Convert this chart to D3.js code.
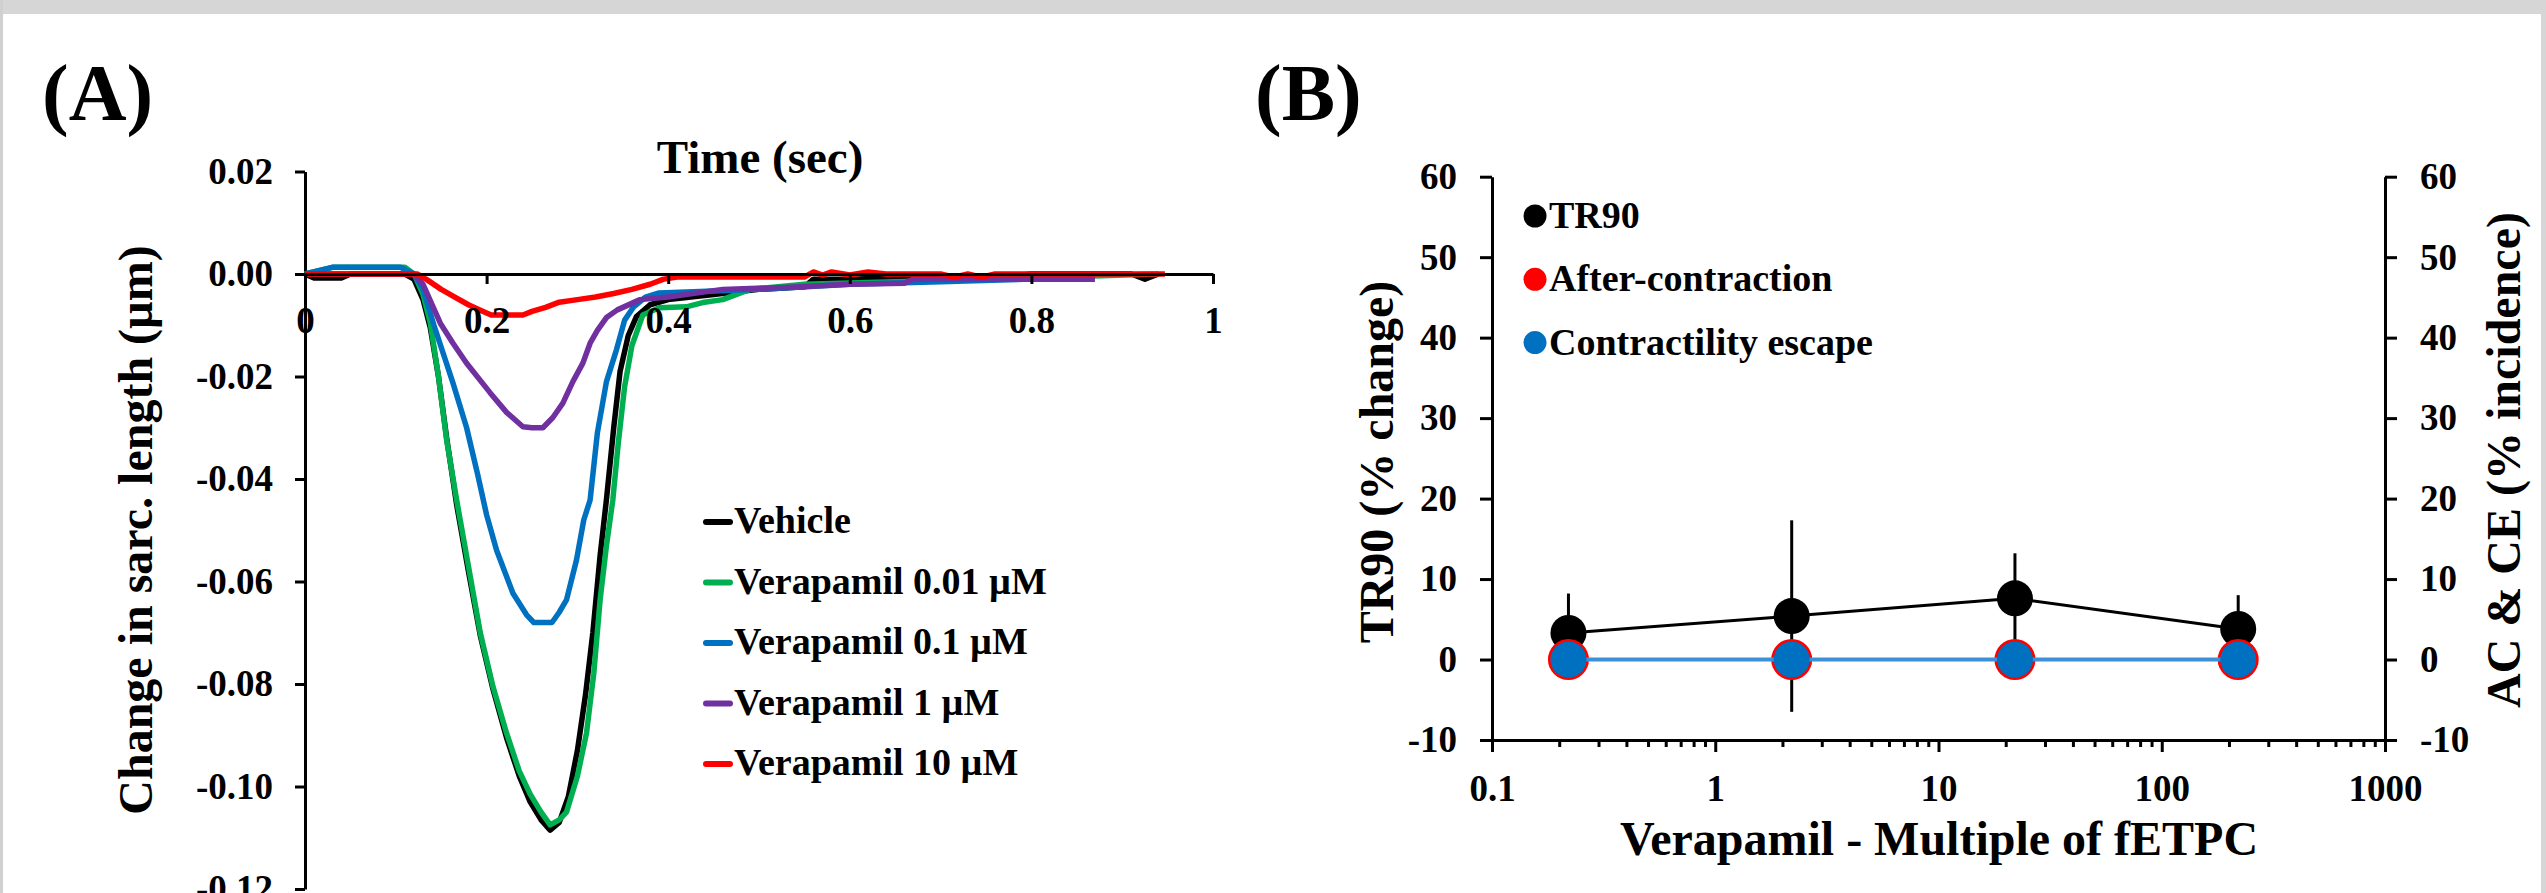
<!DOCTYPE html>
<html>
<head>
<meta charset="utf-8">
<script src="https://cdn.jsdelivr.net/npm/d3@7"></script>
<style>
  body { margin: 0; background: #fff; }
  svg { display: block; font-family: "Liberation Serif", "Times New Roman", serif; font-weight: bold; }
</style>
</head>
<body>
<div id="chart"></div>
<script>
// ---- panel A data : [time (sec), change in sarcomere length (um)] ----
var vehicle = [[0,0],[0.01,-0.0008],[0.04,-0.0008],[0.05,0],[0.11,0],[0.12,-0.001],[0.13,-0.005],[0.138,-0.0105],[0.147,-0.02],[0.156,-0.032],[0.167,-0.045],[0.18,-0.058],[0.193,-0.0705],[0.207,-0.081],[0.222,-0.0905],[0.236,-0.098],[0.248,-0.103],[0.26,-0.1065],[0.27,-0.1085],[0.28,-0.107],[0.29,-0.102],[0.3,-0.093],[0.309,-0.082],[0.317,-0.070],[0.325,-0.055],[0.332,-0.044],[0.34,-0.03],[0.347,-0.019],[0.356,-0.012],[0.365,-0.0083],[0.38,-0.006],[0.4,-0.005],[0.45,-0.004],[0.5,-0.003],[0.55,-0.0025],[0.56,-0.001],[0.6,-0.001],[0.7,-0.0005],[0.74,-0.0012],[0.76,-0.0008],[0.8,0],[0.91,0],[0.925,-0.001],[0.94,0]];
var vera001 = [[0,0],[0.03,0.0013],[0.11,0.0013],[0.12,0],[0.13,-0.004],[0.138,-0.0096],[0.147,-0.02],[0.156,-0.0324],[0.167,-0.0441],[0.18,-0.057],[0.193,-0.070],[0.207,-0.0805],[0.222,-0.0896],[0.236,-0.097],[0.248,-0.1015],[0.26,-0.105],[0.27,-0.1075],[0.28,-0.1065],[0.288,-0.105],[0.3,-0.098],[0.31,-0.0896],[0.318,-0.078],[0.325,-0.0636],[0.332,-0.053],[0.339,-0.0441],[0.345,-0.033],[0.352,-0.022],[0.36,-0.014],[0.372,-0.008],[0.39,-0.0066],[0.42,-0.0064],[0.44,-0.0055],[0.46,-0.005],[0.49,-0.003],[0.55,-0.002],[0.65,-0.0015],[0.75,-0.001],[0.85,-0.0005],[0.94,0]];
var vera01 = [[0,0],[0.03,0.0013],[0.105,0.0013],[0.12,0],[0.13,-0.003],[0.142,-0.01],[0.163,-0.0213],[0.178,-0.030],[0.19,-0.039],[0.2,-0.047],[0.211,-0.0539],[0.229,-0.0623],[0.244,-0.0665],[0.252,-0.068],[0.272,-0.068],[0.28,-0.066],[0.288,-0.0636],[0.299,-0.0558],[0.307,-0.048],[0.314,-0.0441],[0.322,-0.031],[0.332,-0.021],[0.343,-0.0148],[0.352,-0.009],[0.362,-0.0064],[0.375,-0.0045],[0.39,-0.0037],[0.45,-0.0033],[0.5,-0.003],[0.6,-0.002],[0.7,-0.0015],[0.8,-0.001],[0.87,-0.0005]];
var vera1 = [[0,0],[0.12,0],[0.13,-0.002],[0.149,-0.0096],[0.163,-0.0135],[0.178,-0.0174],[0.204,-0.0232],[0.222,-0.027],[0.24,-0.0298],[0.25,-0.030],[0.262,-0.030],[0.273,-0.028],[0.284,-0.0252],[0.295,-0.021],[0.306,-0.0174],[0.314,-0.0135],[0.322,-0.011],[0.332,-0.0085],[0.344,-0.007],[0.369,-0.005],[0.4,-0.0045],[0.46,-0.003],[0.534,-0.0026],[0.6,-0.002],[0.66,-0.0018],[0.67,-0.001],[0.87,-0.001]];
var vera10 = [[0,0],[0.124,0],[0.135,-0.0012],[0.15,-0.003],[0.165,-0.0045],[0.18,-0.006],[0.195,-0.0072],[0.205,-0.008],[0.24,-0.008],[0.25,-0.0073],[0.265,-0.0065],[0.28,-0.0055],[0.3,-0.005],[0.32,-0.0045],[0.34,-0.0038],[0.36,-0.003],[0.38,-0.002],[0.395,-0.001],[0.41,-0.0006],[0.55,-0.0006],[0.56,0.0004],[0.57,-0.0002],[0.58,0.0004],[0.6,-0.0002],[0.62,0.0004],[0.64,0],[0.7,0],[0.715,-0.0006],[0.73,0],[0.745,-0.0006],[0.76,0],[0.947,0]];

var seriesNames = ["Vehicle", "Verapamil 0.01 \u00b5M", "Verapamil 0.1 \u00b5M", "Verapamil 1 \u00b5M", "Verapamil 10 \u00b5M"];
var seriesColors = ["#000000", "#00b050", "#0070c0", "#7030a0", "#ff0000"];
var timeTicks = [0, 0.2, 0.4, 0.6, 0.8, 1];
var lengthTicks = [0.02, 0, -0.02, -0.04, -0.06, -0.08, -0.10, -0.12];

// ---- panel B data ----
var multiples = [0.22, 2.2, 22, 220];
var tr90 = [3.3, 5.4, 7.6, 3.8];
var tr90Sd = [4.9, 11.9, 5.6, 4.2];
var afterContraction = [0, 0, 0, 0];
var contractEscape = [0, 0, 0, 0];
var bTicks = [-10, 0, 10, 20, 30, 40, 50, 60];
var logTicks = [0.1, 1, 10, 100, 1000];

const W = 2546, H = 893;
var svg = d3.select("#chart").append("svg")
    .attr("width", W)
    .attr("height", H);

// scan border of the source figure
svg.append("rect").attr("x", 0).attr("y", 0).attr("width", W).attr("height", 14).attr("fill", "#d6d6d6");
svg.append("rect").attr("x", 0).attr("y", 0).attr("width", 3).attr("height", H).attr("fill", "#d0d0d0");
svg.append("rect").attr("x", W - 5).attr("y", 0).attr("width", 5).attr("height", H).attr("fill", "#d6d6d6");

function styleAxis(g, fs) {
    g.select(".domain").attr("stroke", "#000").attr("stroke-width", 3);
    g.selectAll(".tick line").attr("stroke", "#000").attr("stroke-width", 3);
    g.selectAll(".tick text")
        .attr("fill", "#000")
        .style("font-family", "'Liberation Serif', 'Times New Roman', serif")
        .style("font-weight", "bold")
        .style("font-size", fs + "px");
}

// =========== panel A ===========
var xA = d3.scaleLinear().domain([0, 1]).range([305, 1213]);
var yA = d3.scaleLinear().domain([-0.12, 0.02]).range([889, 171.5]);

svg.append("text").attr("x", 42).attr("y", 120)
    .style("font-size", "80px").text("(A)");

var gyA = svg.append("g").attr("transform", "translate(305,0)")
    .call(d3.axisLeft(yA).tickValues(lengthTicks).tickSize(10).tickSizeOuter(0).tickPadding(22)
        .tickFormat(d => d.toFixed(2)));
styleAxis(gyA, 37);

var lineA = d3.line().x(d => xA(d[0])).y(d => yA(d[1]));
var curves = [vehicle, vera001, vera01, vera1, vera10];
// black first, then each dose on top of it
svg.append("g").selectAll("path")
    .data(curves)
    .enter()
    .append("path")
    .attr("d", lineA)
    .attr("fill", "none")
    .attr("stroke", (d, i) => seriesColors[i])
    .attr("stroke-width", 5.5)
    .attr("stroke-linejoin", "round");

var gxA = svg.append("g").attr("transform", `translate(0,${yA(0)})`)
    .call(d3.axisBottom(xA).tickValues(timeTicks).tickSize(10).tickSizeOuter(0).tickPadding(23)
        .tickFormat(d => (d === 0 || d === 1) ? String(d) : d.toFixed(1)));
styleAxis(gxA, 37);

svg.append("text").attr("x", 760).attr("y", 173)
    .attr("text-anchor", "middle").style("font-size", "47px").text("Time (sec)");

svg.append("text")
    .attr("transform", "translate(152,530) rotate(-90)")
    .attr("text-anchor", "middle").style("font-size", "48px")
    .text("Change in sarc. length (\u00b5m)");

var legA = svg.append("g").selectAll("g")
    .data(seriesNames)
    .enter()
    .append("g")
    .attr("transform", (d, i) => `translate(703,${533 + i * 60.5})`);
legA.append("line")
    .attr("x1", 3).attr("x2", 27).attr("y1", -11).attr("y2", -11)
    .attr("stroke", (d, i) => seriesColors[i]).attr("stroke-width", 6)
    .attr("stroke-linecap", "round");
legA.append("text").attr("x", 31).attr("y", 0)
    .style("font-size", "38px").text(d => d);

// =========== panel B ===========
var xB = d3.scaleLog().domain([0.1, 1000]).range([1492, 2385]);
var yB = d3.scaleLinear().domain([-10, 60]).range([740, 176.7]);

svg.append("text").attr("x", 1255).attr("y", 120)
    .style("font-size", "80px").text("(B)");

var gyB = svg.append("g").attr("transform", "translate(1492,0)")
    .call(d3.axisLeft(yB).tickValues(bTicks).tickSize(12).tickSizeOuter(0).tickPadding(23).tickFormat(String));
styleAxis(gyB, 37);
var gyB2 = svg.append("g").attr("transform", "translate(2385,0)")
    .call(d3.axisRight(yB).tickValues(bTicks).tickSize(12).tickSizeOuter(0).tickPadding(23).tickFormat(String));
styleAxis(gyB2, 37);

var minorTicks = [];
[0.1, 1, 10, 100].forEach(function(dec) {
    for (var k = 2; k <= 9; k++) minorTicks.push(dec * k);
});
var gxBminor = svg.append("g").attr("transform", "translate(0,740)")
    .call(d3.axisBottom(xB).tickValues(minorTicks).tickSize(7).tickSizeOuter(0).tickFormat(""));
styleAxis(gxBminor, 37);
var gxB = svg.append("g").attr("transform", "translate(0,740)")
    .call(d3.axisBottom(xB).tickValues(logTicks).tickSize(12).tickSizeOuter(0).tickPadding(23).tickFormat(String));
styleAxis(gxB, 37);

svg.append("text").attr("x", 1939).attr("y", 855)
    .attr("text-anchor", "middle").style("font-size", "48px").text("Verapamil - Multiple of fETPC");
svg.append("text")
    .attr("transform", "translate(1393,462) rotate(-90)")
    .attr("text-anchor", "middle").style("font-size", "48px").text("TR90 (% change)");
svg.append("text")
    .attr("transform", "translate(2520,460) rotate(-90)")
    .attr("text-anchor", "middle").style("font-size", "48px").text("AC & CE (% incidence)");

var tr90Data = multiples.map((m, i) => ({ x: m, y: tr90[i], sd: tr90Sd[i] }));

svg.append("g").selectAll("line")
    .data(tr90Data)
    .enter()
    .append("line")
    .attr("x1", d => xB(d.x)).attr("x2", d => xB(d.x))
    .attr("y1", d => yB(d.y - d.sd)).attr("y2", d => yB(d.y + d.sd))
    .attr("stroke", "#000").attr("stroke-width", 3);

svg.append("path")
    .datum(tr90Data)
    .attr("d", d3.line().x(d => xB(d.x)).y(d => yB(d.y)))
    .attr("fill", "none").attr("stroke", "#000").attr("stroke-width", 3);

svg.append("g").selectAll("circle")
    .data(tr90Data)
    .enter()
    .append("circle")
    .attr("cx", d => xB(d.x)).attr("cy", d => yB(d.y)).attr("r", 18)
    .attr("fill", "#000");

svg.append("path")
    .datum(multiples.map((m, i) => [m, afterContraction[i]]))
    .attr("d", d3.line().x(d => xB(d[0])).y(d => yB(d[1])))
    .attr("fill", "none").attr("stroke", "#ff0000").attr("stroke-width", 3);

svg.append("g").selectAll("circle")
    .data(multiples.map((m, i) => [m, afterContraction[i]]))
    .enter()
    .append("circle")
    .attr("cx", d => xB(d[0])).attr("cy", d => yB(d[1])).attr("r", 20.5)
    .attr("fill", "#ff0000");

svg.append("path")
    .datum(multiples.map((m, i) => [m, contractEscape[i]]))
    .attr("d", d3.line().x(d => xB(d[0])).y(d => yB(d[1])))
    .attr("fill", "none").attr("stroke", "#3d8fd6").attr("stroke-width", 4);

svg.append("g").selectAll("circle")
    .data(multiples.map((m, i) => [m, contractEscape[i]]))
    .enter()
    .append("circle")
    .attr("cx", d => xB(d[0])).attr("cy", d => yB(d[1])).attr("r", 18)
    .attr("fill", "#0070c0");

var legBNames = ["TR90", "After-contraction", "Contractility escape"];
var legBColors = ["#000000", "#ff0000", "#0070c0"];
var legB = svg.append("g").selectAll("g")
    .data(legBNames)
    .enter()
    .append("g")
    .attr("transform", (d, i) => `translate(1535,${228 + i * 63.3})`);
legB.append("circle").attr("cx", 0).attr("cy", -12).attr("r", 11.5)
    .attr("fill", (d, i) => legBColors[i]);
legB.append("text").attr("x", 14).attr("y", 0)
    .style("font-size", "38px").text(d => d);
</script>
</body>
</html>
